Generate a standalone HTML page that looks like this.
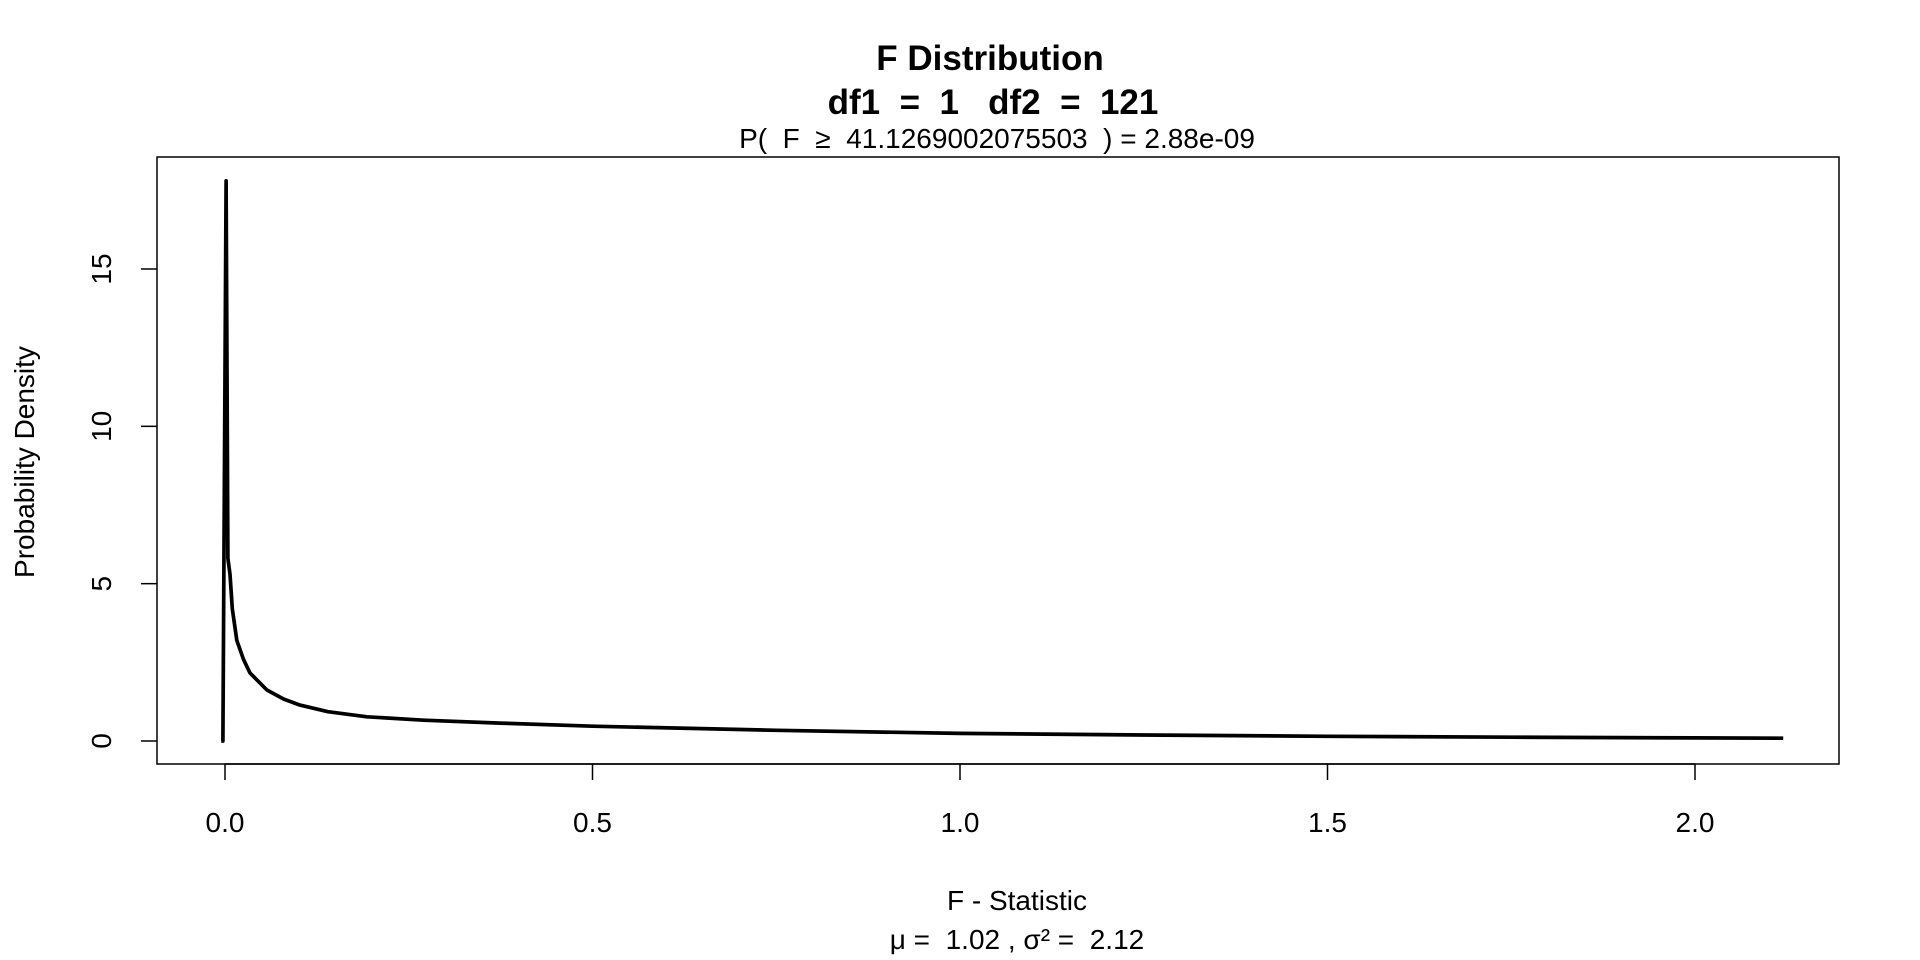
<!DOCTYPE html>
<html><head><meta charset="utf-8"><style>
html,body{margin:0;padding:0;background:#fff;}
svg{display:block;font-family:"Liberation Sans",Arial,sans-serif;}
</style></head><body>
<svg id="chart" width="1920" height="960" viewBox="0 0 1920 960">
<g id="titles">
<text x="990" y="70" text-anchor="middle" font-size="35" font-weight="bold">F Distribution</text>
<text x="993" y="114" text-anchor="middle" font-size="35" font-weight="bold" xml:space="preserve">df1  =  1   df2  =  121</text>
<text x="997" y="148" text-anchor="middle" font-size="28" xml:space="preserve">P(  F  ≥  41.1269002075503  ) = 2.88e-09</text>
<text x="1017" y="910" text-anchor="middle" font-size="28">F - Statistic</text>
<text x="1017" y="949" text-anchor="middle" font-size="28" xml:space="preserve">μ =  1.02 , σ² =  2.12</text>
<text x="0" y="0" transform="translate(34,462) rotate(-90)" text-anchor="middle" font-size="28">Probability Density</text>
</g>
<rect x="157" y="157" width="1682" height="607" fill="none" stroke="#000" stroke-width="1.5"/>
<g id="axes"></g>
<g id="series"></g>
</svg>
<script>
const xTicks = [0.0, 0.5, 1.0, 1.5, 2.0];
const xTickLabels = ["0.0", "0.5", "1.0", "1.5", "2.0"];
const yTicks = [0, 5, 10, 15];
const yTickLabels = ["0", "5", "10", "15"];
const fValues = [-0.005, -0.003, -0.0028, 0.0015, 0.004, 0.0068, 0.01, 0.016, 0.025, 0.034, 0.057, 0.08, 0.102, 0.14, 0.193, 0.27, 0.374, 0.5, 0.75, 1.0, 1.25, 1.5, 1.75, 2.0, 2.12];
const densities = [0, 0, 0, 17.8, 5.8, 5.3, 4.2, 3.2, 2.6, 2.16, 1.62, 1.33, 1.14, 0.93, 0.77, 0.66, 0.57, 0.47, 0.34, 0.24, 0.19, 0.15, 0.12, 0.1, 0.09];

const NS = "http://www.w3.org/2000/svg";
function xs(v){ return 225 + (v - 0) * (1695 - 225) / 2.0; }
function ys(v){ return 741 - v * (741 - 269) / 15; }
const axes = document.getElementById('axes');
function mk(tag, attrs, parent){
  const e = document.createElementNS(NS, tag);
  for (const k in attrs) e.setAttribute(k, attrs[k]);
  parent.appendChild(e);
  return e;
}
const xl = mk('line', {x1: xs(xTicks[0]), x2: xs(xTicks[xTicks.length-1]), y1: 764, y2: 764, stroke: '#000', 'stroke-width': 1.5}, axes);


xTicks.forEach((t, i) => {
  const tk = mk('line', {x1: xs(t), x2: xs(t), y1: 764, y2: 780, stroke: '#000', 'stroke-width': 1.5}, axes);
  
  
  const lb = mk('text', {x: xs(t), y: 832, 'text-anchor': 'middle', 'font-size': 28}, axes);
  lb.textContent = xTickLabels[i];
  
  
});
yTicks.forEach((t, i) => {
  const tk = mk('line', {x1: 141, x2: 157, y1: ys(t), y2: ys(t), stroke: '#000', 'stroke-width': 1.5}, axes);
  
  
  const lb = mk('text', {x: 0, y: 0, transform: 'translate(111,' + ys(t) + ') rotate(-90)', 'text-anchor': 'middle', 'font-size': 28}, axes);
  lb.textContent = yTickLabels[i];
  
  
});
const series = document.getElementById('series');
const d = fValues.map((v, i) => (i ? 'L' : 'M') + xs(v).toFixed(1) + ',' + ys(densities[i]).toFixed(1)).join(' ');
const path = mk('path', {d: d, fill: 'none', stroke: '#000', 'stroke-width': 3.7, 'stroke-linejoin': 'round'}, series);


</script>
</body></html>
